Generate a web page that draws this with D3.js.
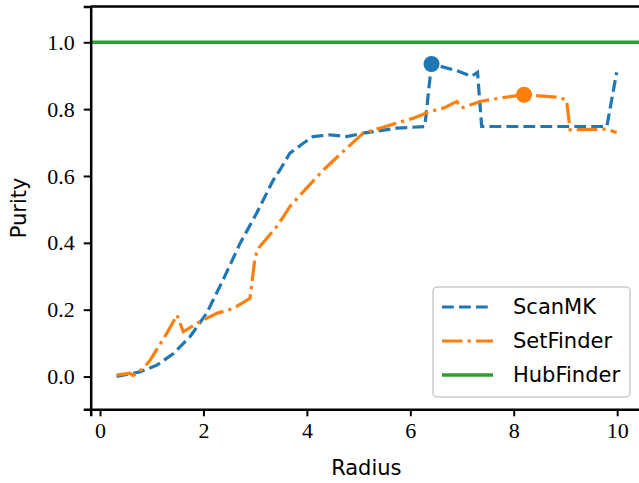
<!DOCTYPE html>
<html>
<head>
<meta charset="utf-8">
<script src="https://cdn.jsdelivr.net/npm/d3@7"></script>
<style>
  body { margin: 0; background: #fff; }
  svg { display: block; }
</style>
</head>
<body>
<svg id="chart"></svg>
<script>
const width = 639;
const height = 483;

// ScanMK (dashed, blue)
const scanRadius = [0.32, 0.77, 1.10, 1.42, 1.74, 2.06, 2.38, 2.71, 3.03, 3.35, 3.48, 3.67, 3.93, 4.12, 4.45, 4.77, 5.09, 5.74, 6.28, 6.41, 6.9, 7.18, 7.3, 7.38, 9.80, 9.99];
const scanPurity = [0.0, 0.014, 0.034, 0.069, 0.119, 0.189, 0.289, 0.399, 0.489, 0.588, 0.618, 0.668, 0.698, 0.718, 0.723, 0.718, 0.728, 0.743, 0.748, 0.935, 0.915, 0.898, 0.91, 0.748, 0.748, 0.91];

// SetFinder (dash-dot, orange)
const setRadius = [0.32, 0.58, 0.64, 0.84, 0.97, 1.29, 1.49, 1.61, 1.93, 2.26, 2.58, 2.90, 3.0, 3.09, 3.42, 3.67, 3.87, 4.32, 4.77, 5.09, 5.41, 6.06, 6.38, 6.64, 6.90, 6.99, 7.35, 7.73, 8.20, 8.63, 8.83, 9.02, 9.09, 9.80, 9.99];
const setPurity = [0.004, 0.01, 0.003, 0.025, 0.049, 0.129, 0.184, 0.134, 0.164, 0.189, 0.204, 0.234, 0.359, 0.389, 0.449, 0.508, 0.543, 0.618, 0.683, 0.728, 0.743, 0.773, 0.793, 0.803, 0.823, 0.803, 0.823, 0.833, 0.843, 0.838, 0.836, 0.828, 0.738, 0.740, 0.730];

// HubFinder (solid, green)
const hubPurity = 1.0;

// best points
const scanBest = [6.41, 0.935];
const setBest = [8.20, 0.843];

const xTicks = [0, 2, 4, 6, 8, 10];
const yTicks = [0.0, 0.2, 0.4, 0.6, 0.8, 1.0];

const legendNames = ["ScanMK", "SetFinder", "HubFinder"];
const colors = ["#1f77b4", "#ff7f0e", "#2ca02c"];
const lw = 3.2;
const dashes = [`${3.7 * lw},${1.6 * lw}`, `${6.4 * lw},${1.6 * lw},${lw},${1.6 * lw}`, null];

const x = d3.scaleLinear().domain([-0.18, 10.48]).range([90.7, 642]);
const y = d3.scaleLinear().domain([-0.098, 1.107]).range([409.3, 6.5]);

const svg = d3.select("#chart")
  .attr("width", width)
  .attr("height", height);

const line = d3.line()
  .x(d => x(d[0]))
  .y(d => y(d[1]));

const plot = svg.append("g");

const scanData = scanRadius.map((r, i) => [r, scanPurity[i]]);
const setData = setRadius.map((r, i) => [r, setPurity[i]]);

plot.append("line")
  .attr("x1", x.range()[0]).attr("x2", x.range()[1])
  .attr("y1", y(hubPurity)).attr("y2", y(hubPurity))
  .attr("stroke", colors[2])
  .attr("stroke-width", lw + 0.4);

plot.append("path")
  .datum(scanData)
  .attr("d", line)
  .attr("fill", "none")
  .attr("stroke", colors[0])
  .attr("stroke-width", lw)
  .attr("stroke-dasharray", dashes[0]);

plot.append("path")
  .datum(setData)
  .attr("d", line)
  .attr("fill", "none")
  .attr("stroke", colors[1])
  .attr("stroke-width", lw)
  .attr("stroke-dasharray", dashes[1]);

plot.selectAll("circle.best")
  .data([scanBest, setBest])
  .enter().append("circle")
  .attr("class", "best")
  .attr("cx", d => x(d[0]))
  .attr("cy", d => y(d[1]))
  .attr("r", 8)
  .attr("fill", (d, i) => colors[i]);

// axes
const xAxis = svg.append("g")
  .attr("transform", `translate(0,${y.range()[0]})`)
  .call(d3.axisBottom(x).tickValues(xTicks).tickFormat(d3.format("d")).tickSize(7).tickPadding(6));

const yAxis = svg.append("g")
  .attr("transform", `translate(${x.range()[0]},0)`)
  .call(d3.axisLeft(y).tickValues(yTicks).tickFormat(d3.format(".1f")).tickSize(7).tickPadding(9));

[xAxis, yAxis].forEach(ax => {
  ax.select(".domain").attr("stroke", "#000").attr("stroke-width", 2.5);
  ax.selectAll(".tick line").attr("stroke", "#000").attr("stroke-width", 2);
  ax.selectAll(".tick text")
    .attr("fill", "#000")
    .attr("font-family", "'Liberation Serif', serif")
    .attr("font-size", 22);
});

// top spine
svg.append("line")
  .attr("x1", x.range()[0]).attr("x2", x.range()[1])
  .attr("y1", y.range()[1]).attr("y2", y.range()[1])
  .attr("stroke", "#000").attr("stroke-width", 2.5);

svg.append("text")
  .attr("x", (x.range()[0] + x.range()[1]) / 2)
  .attr("y", 475)
  .attr("text-anchor", "middle")
  .attr("font-family", "'DejaVu Sans', sans-serif")
  .attr("font-size", 21)
  .text("Radius");

svg.append("text")
  .attr("transform", `translate(26,${(y.range()[0] + y.range()[1]) / 2}) rotate(-90)`)
  .attr("text-anchor", "middle")
  .attr("font-family", "'DejaVu Sans', sans-serif")
  .attr("font-size", 21)
  .text("Purity");

// legend
const legend = svg.append("g");
legend.append("rect")
  .attr("x", 433).attr("y", 287)
  .attr("width", 197).attr("height", 110)
  .attr("rx", 4)
  .attr("fill", "#fff").attr("fill-opacity", 0.8)
  .attr("stroke", "#cccccc").attr("stroke-width", 1.5);

const rows = legend.selectAll("g.row")
  .data(legendNames)
  .enter().append("g")
  .attr("class", "row")
  .attr("transform", (d, i) => `translate(0,${307 + i * 34})`);

rows.append("line")
  .attr("x1", 442).attr("x2", 493)
  .attr("stroke", (d, i) => colors[i])
  .attr("stroke-width", (d, i) => i === 2 ? lw + 0.4 : lw)
  .attr("stroke-dasharray", (d, i) => dashes[i]);

rows.append("text")
  .attr("x", 513)
  .attr("dy", "0.35em")
  .attr("font-family", "'DejaVu Sans', sans-serif")
  .attr("font-size", 21)
  .text(d => d);
</script>
</body>
</html>
